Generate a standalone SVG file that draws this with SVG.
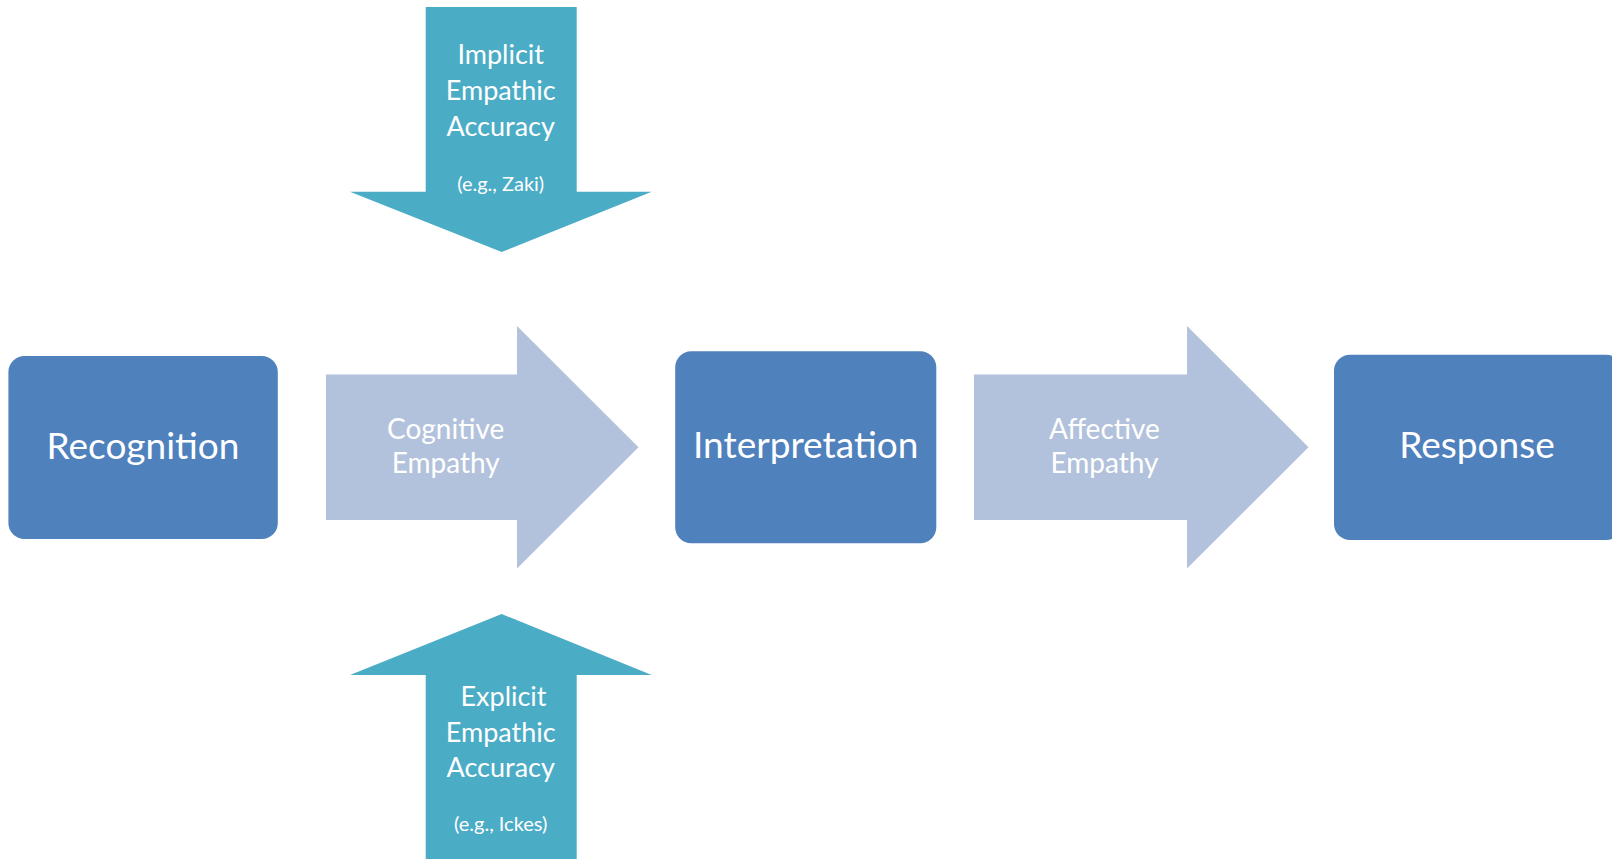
<svg xmlns="http://www.w3.org/2000/svg" width="1612" height="859" viewBox="0 0 1612 859">
  <style>
    .box { fill: #4F81BD; }
    .flow { fill: #B3C2DC; }
    .teal { fill: #4BACC6; }
    text { font-family: Lato, "Open Sans", "Liberation Sans", sans-serif; fill: #FFFFFF; text-anchor: middle; }
    .big { font-size: 37px; }
    .mid { font-size: 28px; }
    .sm { font-size: 27px; }
    .xs { font-size: 20px; }
  </style>
  <rect width="1612" height="859" fill="#FFFFFF"/>
  <g id="connectors">
    <g id="cognitive-empathy">
      <polygon class="flow" points="326,374.5 517,374.5 517,326 638.5,447.3 517,568.5 517,520 326,520"/>
      <text class="mid" x="445.7" y="439">Cognitive</text>
      <text class="mid" x="445.7" y="473.3">Empathy</text>
    </g>
    <g id="affective-empathy">
      <polygon class="flow" points="974,374.5 1187,374.5 1187,326 1308.5,447.3 1187,568.5 1187,520 974,520"/>
      <text class="mid" x="1104.5" y="439">Affective</text>
      <text class="mid" x="1104.5" y="473.3">Empathy</text>
    </g>
  </g>
  <g id="implicit-accuracy">
    <polygon class="teal" points="425.7,7 576.7,7 576.7,191.7 651.7,191.7 501.7,252 350,191.7 425.7,191.7"/>
    <text class="sm" x="500.7" y="64.3">Implicit</text>
    <text class="sm" x="500.7" y="100">Empathic</text>
    <text class="sm" x="500.7" y="136">Accuracy</text>
    <text class="xs" x="500.7" y="190.5">(e.g., Zaki)</text>
  </g>
  <g id="explicit-accuracy">
    <polygon class="teal" points="501.7,614 651.7,675 576.7,675 576.7,859 425.7,859 425.7,675 350,675"/>
    <text class="sm" x="503.5" y="706">Explicit</text>
    <text class="sm" x="500.7" y="741.7">Empathic</text>
    <text class="sm" x="500.7" y="776.7">Accuracy</text>
    <text class="xs" x="500.7" y="830.5">(e.g., Ickes)</text>
  </g>
  <g id="recognition">
    <rect class="box" x="8.4" y="356" width="269.4" height="183" rx="16" ry="16"/>
    <text class="big" x="143" y="459.3">Recognition</text>
  </g>
  <g id="interpretation">
    <rect class="box" x="675.2" y="351.2" width="261.1" height="192" rx="16" ry="16"/>
    <text class="big" x="805.7" y="458.3">Interpretation</text>
  </g>
  <g id="response">
    <rect class="box" x="1334" y="354.7" width="288" height="185.3" rx="16" ry="16"/>
    <text class="big" x="1477" y="458.3">Response</text>
  </g>
</svg>
